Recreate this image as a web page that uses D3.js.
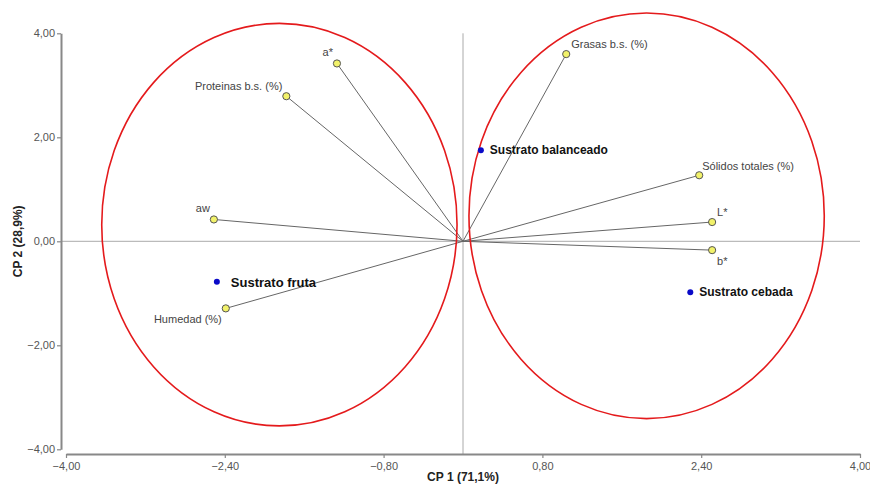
<!DOCTYPE html>
<html><head><meta charset="utf-8">
<script src="https://cdn.jsdelivr.net/npm/d3@7"></script>
<style>body{margin:0;background:#fff}</style>
</head><body>
<svg id="c" width="870" height="485"></svg>
<script>
// Variables (loadings) and observations
const varNames = ["Proteinas b.s. (%)", "a*", "aw", "Humedad (%)", "Grasas b.s. (%)", "Sólidos totales (%)", "L*", "b*"];
const varX = [-1.78, -1.27, -2.51, -2.39, 1.04, 2.38, 2.51, 2.51];
const varY = [2.79, 3.42, 0.42, -1.29, 3.60, 1.27, 0.37, -0.17];
const obsNames = ["Sustrato fruta", "Sustrato balanceado", "Sustrato cebada"];
const obsX = [-2.48, 0.18, 2.29];
const obsY = [-0.78, 1.75, -0.98];
const xTicks = [-4, -2.4, -0.8, 0.8, 2.4, 4];
const yTicks = [-4, -2, 0, 2, 4];
// ellipses: center x, center y, radius x, radius y (data units)
const ellCX = [-1.85, 1.85];
const ellCY = [0.32, 0.49];
const ellRX = [1.79, 1.79];
const ellRY = [3.87, 3.90];

const svg = d3.select("#c");
const x = d3.scaleLinear().domain([-4, 4]).range([66, 860]);
const y = d3.scaleLinear().domain([-4, 4]).range([449.3, 33.3]);
const fmt = v => d3.format(".2f")(v).replace(".", ",").replace("-", "-");
const font = "'Liberation Sans', Arial, sans-serif";

// zero lines
svg.append("line").attr("x1", 61).attr("x2", x(4)).attr("y1", y(0)).attr("y2", y(0))
  .attr("stroke", "#aaa").attr("stroke-width", 1);
svg.append("line").attr("x1", x(0)).attr("x2", x(0)).attr("y1", y(4)).attr("y2", 454)
  .attr("stroke", "#aaa").attr("stroke-width", 1);

// axes
const gx = svg.append("g").attr("transform", "translate(0,454)")
  .call(d3.axisBottom(x).tickValues(xTicks).tickFormat(fmt).tickSize(4).tickSizeOuter(0));
const gy = svg.append("g").attr("transform", "translate(61,0)")
  .call(d3.axisLeft(y).tickValues(yTicks).tickFormat(fmt).tickSize(4).tickSizeOuter(0));
[gx, gy].forEach(g => {
  g.select(".domain").attr("stroke", "#888").attr("stroke-width", 2);
  g.selectAll(".tick line").attr("stroke", "#888").attr("stroke-width", 1.2);
  g.selectAll(".tick text").attr("fill", "#555").style("font-family", font).style("font-size", "11px");
});
gx.selectAll(".tick text").attr("dy", "0.85em");
gy.selectAll(".tick text").attr("dx", "0.1em");

// axis titles
svg.append("text").attr("x", x(0)).attr("y", 481).attr("text-anchor", "middle")
  .style("font-family", font).style("font-size", "12px").style("font-weight", "bold")
  .attr("fill", "#222").text("CP 1 (71,1%)");
svg.append("text").attr("transform", `translate(22,${y(0)}) rotate(-90)`).attr("text-anchor", "middle")
  .style("font-family", font).style("font-size", "12px").style("font-weight", "bold")
  .attr("fill", "#222").text("CP 2 (28,9%)");

// vectors
const vars = varNames.map((n, i) => ({n, x: varX[i], y: varY[i]}));
svg.selectAll(".vec").data(vars).enter().append("line")
  .attr("x1", x(0)).attr("y1", y(0)).attr("x2", d => x(d.x)).attr("y2", d => y(d.y))
  .attr("stroke", "#666").attr("stroke-width", 1);

// ellipses
ellCX.forEach((cx, i) => {
  svg.append("ellipse").attr("cx", x(cx)).attr("cy", y(ellCY[i]))
    .attr("rx", x(ellRX[i]) - x(0)).attr("ry", y(0) - y(ellRY[i]))
    .attr("fill", "none").attr("stroke", "#e41a1c").attr("stroke-width", 1.6);
});

// variable points
svg.selectAll(".vp").data(vars).enter().append("circle")
  .attr("cx", d => x(d.x)).attr("cy", d => y(d.y)).attr("r", 3.6)
  .attr("fill", "#f2f26a").attr("stroke", "#555").attr("stroke-width", 1);

// variable labels
const lab = {
  "Proteinas b.s. (%)": [-4, -6, "end"],
  "a*": [-4, -7, "end"],
  "aw": [-4, -7, "end"],
  "Humedad (%)": [-4, 15, "end"],
  "Grasas b.s. (%)": [5, -6, "start"],
  "Sólidos totales (%)": [3, -5, "start"],
  "L*": [5, -6, "start"],
  "b*": [5, 15, "start"]
};
svg.selectAll(".vl").data(vars).enter().append("text")
  .attr("x", d => x(d.x) + lab[d.n][0]).attr("y", d => y(d.y) + lab[d.n][1])
  .attr("text-anchor", d => lab[d.n][2])
  .style("font-family", font).style("font-size", "11px").attr("fill", "#444")
  .text(d => d.n);

// observations
const obs = obsNames.map((n, i) => ({n, x: obsX[i], y: obsY[i]}));
svg.selectAll(".op").data(obs).enter().append("circle")
  .attr("cx", d => x(d.x)).attr("cy", d => y(d.y)).attr("r", 3)
  .attr("fill", "#0a0ac8");
svg.selectAll(".ol").data(obs).enter().append("text")
  .attr("x", d => x(d.x) + (d.n === "Sustrato fruta" ? 14 : 9)).attr("y", d => y(d.y) + (d.n === "Sustrato fruta" ? 5 : 4))
  .style("font-family", font).style("font-size", d => d.n === "Sustrato fruta" ? "13px" : "12px")
  .style("font-weight", "bold").attr("fill", "#111")
  .text(d => d.n);
</script>
</body></html>
